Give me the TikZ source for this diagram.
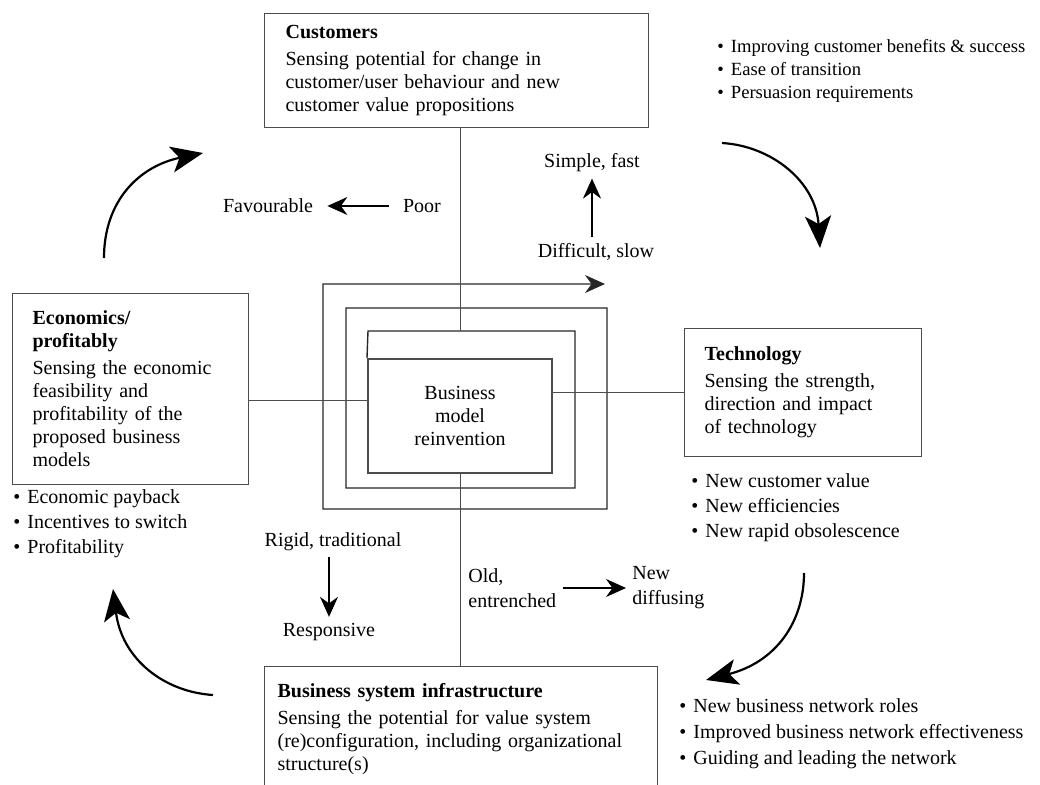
\documentclass[tikz,border=0pt]{standalone}
\usepackage{fontspec}
\setmainfont{Liberation Serif}
\usetikzlibrary{arrows.meta,positioning,calc}
\newcommand{\bpoint}{\textbullet\hspace{3.5pt}}

\begin{document}
\begin{tikzpicture}[
    x=0.5pt, y=-0.5pt,
    box/.style={draw=black!70, line width=0.6pt, anchor=north west, align=left,
                inner ysep=0pt, font=\fontsize{10}{11.5}\selectfont},
    lbl/.style={inner sep=3pt, font=\fontsize{10}{12.5}\selectfont},
    bullets/.style={lbl, inner sep=0pt, anchor=west, align=left},
    link/.style={draw=black!70, line width=0.5pt},
    arrow/.style={-{Stealth[length=10pt,width=9pt]}, line width=0.6pt},
    bigarrow/.style={-{Stealth[length=16pt,width=13pt,inset=4pt]}, line width=1.1pt}
]
  \useasboundingbox (0,0) rectangle (1040,785);

  % Centre
  \node[draw=black!70, line width=1pt, minimum width=92pt, minimum height=57pt,
        align=center, font=\fontsize{10}{11.5}\selectfont] (bmr) at (460,416)
       {Business\\model\\reinvention};

  % Spiral round the centre
  \draw[black!85, line width=0.7pt, -{Stealth[length=10pt,width=9pt]}]
    (bmr.north west) -- (368,331) coordinate (s3) -- (575,331) -- (575,488)
    -- (346,488) -- (346,308) -- (607,308) -- (607,509) -- (323,509)
    -- (323,284) -- (605,284);

  % Customers
  \node[box, minimum width=192pt, minimum height=57pt, text width=171pt,
        inner xsep=10.5pt] (cust) at (264,13)
       {\textbf{Customers}\\[2pt]
        Sensing potential for change in\\
        customer/user behaviour and new\\
        customer value propositions};

  % Economics
  \node[box, minimum width=118pt, minimum height=95.5pt, text width=98pt,
        inner xsep=10pt] (econ) at (12,293)
       {\textbf{Economics/}\\\textbf{profitably}\\[2pt]
        Sensing the economic\\
        feasibility and\\
        profitability of the\\
        proposed business\\
        models};

  % Technology
  \node[box, minimum width=118.5pt, minimum height=64pt, text width=98.5pt,
        inner xsep=10pt] (tech) at (684,328)
       {\textbf{Technology}\\[2pt]
        Sensing the strength,\\
        direction and impact\\
        of technology};

  % Business system infrastructure
  \node[box, minimum width=196.5pt, minimum height=62pt, text width=183.5pt,
        inner xsep=6.5pt] (infra) at (264,666)
       {\textbf{Business system infrastructure}\\[2pt]
        Sensing the potential for value system\\
        (re)configuration, including organizational\\
        structure(s)};

  % Links to the centre
  \draw[link] (cust.south -| bmr.north) -- (bmr.north |- s3);
  \draw[link] (bmr.south) -- (infra.north -| bmr.south);
  \draw[link] (econ.east |- 0,401) -- (bmr.west |- 0,401);
  \draw[link] (tech.west) -- (tech.west -| bmr.east);

  % Bullet points
  \node[bullets, font=\fontsize{9.3}{11.5}\selectfont] (custpts) at (717,71)
       {\bpoint Improving customer benefits \& success\\
        \bpoint Ease of transition\\
        \bpoint Persuasion requirements};
  \node[bullets] (econpts) at (13,524)
       {\bpoint Economic payback\\
        \bpoint Incentives to switch\\
        \bpoint Profitability};
  \node[bullets] (techpts) at (691,508)
       {\bpoint New customer value\\
        \bpoint New efficiencies\\
        \bpoint New rapid obsolescence};
  \node[bullets, font=\fontsize{10}{13}\selectfont] (infrapts) at (679,734)
       {\bpoint New business network roles\\
        \bpoint Improved business network effectiveness\\
        \bpoint Guiding and leading the network};

  % Change labels
  \node[lbl] (fav) at (268,206) {Favourable};
  \node[lbl] (poor) at (422,206) {Poor};
  \node[lbl] (simple) at (592,163) {Simple, fast};
  \node[lbl] (diff) at (596,252) {Difficult, slow};
  \node[lbl] (rigid) at (333,542) {Rigid, traditional};
  \node[lbl] (resp) at (329,632) {Responsive};
  \node[lbl, anchor=west, align=left] (old) at (462,588) {Old,\\entrenched};
  \node[lbl, anchor=west, align=left] (new) at (626,588) {New\\diffusing};

  \draw[arrow, shorten <=4pt, shorten >=4pt] (poor) -- (fav);
  \draw[arrow] (diff.north -| simple.south) -- (simple.south);
  \draw[arrow] (rigid.south -| resp.north) -- (resp.north);
  \draw[arrow] (old) -- (new);

  % Cycle arrows
  \coordinate (c1a) at (104,258);  \coordinate (c1b) at (203,153);
  \coordinate (c2a) at (722,143);  \coordinate (c2b) at (820,248);
  \coordinate (c3a) at (804,573);  \coordinate (c3b) at (706,680);
  \coordinate (c4a) at (213,695);  \coordinate (c4b) at (113,589);
  \draw[bigarrow] (c1a) .. controls (104,200) and (140,166) .. (c1b);
  \draw[bigarrow] (c2a) .. controls (772,146) and (816,182) .. (c2b);
  \draw[bigarrow] (c3a) .. controls (804,622) and (776,662) .. (c3b);
  \draw[bigarrow] (c4a) .. controls (165,692) and (122,660) .. (c4b);

\end{tikzpicture}
\end{document}
